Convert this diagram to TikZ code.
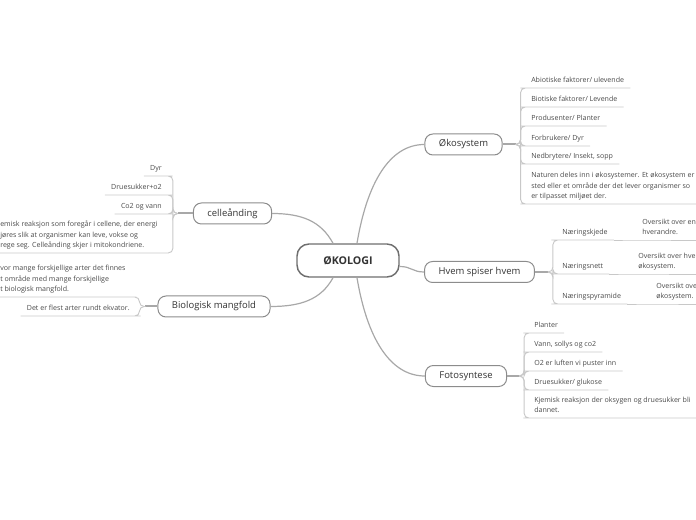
\documentclass[tikz,border=0pt]{standalone}
\usepackage{fontspec}
\setmainfont{Open Sans}
\usetikzlibrary{calc}
\definecolor{txtmain}{HTML}{333333}
\definecolor{txtleaf}{HTML}{4A4A4A}
\definecolor{curvec}{HTML}{A8A8A8}
\definecolor{twigc}{HTML}{C8C8C8}
\definecolor{tborder}{HTML}{8C8C8C}
\definecolor{mborder}{HTML}{6E6E6E}
\begin{document}
\begin{tikzpicture}[x=0.75pt,y=-0.75pt,
  rootbox/.style={draw=mborder,line width=1.1pt,rounded corners=9pt,fill=white,
    minimum width=76.5pt,minimum height=24.75pt,
    font=\fontsize{8}{9.6}\selectfont\bfseries,text=txtmain},
  topicbox/.style={draw=tborder,line width=0.75pt,rounded corners=6pt,fill=white,
    minimum height=15.75pt,inner xsep=10.5pt,
    font=\fontsize{7.1}{8.5}\selectfont,text=txtmain},
  leafR/.style={anchor=south west,inner xsep=4.5pt,inner ysep=1.3pt,align=left,
    font=\fontsize{5.3}{7.9}\selectfont,text=txtleaf},
  leafL/.style={leafR,anchor=south east},
  maincurve/.style={draw=curvec,line width=0.9pt},
  stem/.style={draw=curvec,line width=1.5pt},
  twig/.style={draw=twigc,line width=0.7pt,rounded corners=3.5pt}]
\useasboundingbox (0,0) rectangle (696,520);
\clip (0,0) rectangle (696,520);

% root and topics
\node[rootbox] (main) at (348,260.5) {ØKOLOGI};
\node[topicbox] (eko) at (463.5,144.5) {Økosystem};
\node[topicbox] (hvem) at (479.5,272) {Hvem spiser hvem};
\node[topicbox] (foto) at (466,376) {Fotosyntese};
\node[topicbox] (celle) at (232.5,213.5) {celleånding};
\node[topicbox] (bio) at (214,306.5) {Biologisk mangfold};

% main connectors
\draw[maincurve] ($(main.north)+(9,0)$) .. controls +(10,-60) and +(-35,0) .. (eko.west);
\draw[maincurve] ($(main.south)+(9,0)$) .. controls +(10,60) and +(-35,0) .. (foto.west);
\draw[maincurve] ($(main.east)+(0,6)$) .. controls +(12,0) and +(-12,0) .. (hvem.west);
\draw[maincurve] ($(main.north)+(-15,0)$) .. controls +(-12,-22) and +(30,0) .. (celle.east);
\draw[maincurve] ($(main.south)+(-15,0)$) .. controls +(-12,22) and +(30,0) .. (bio.east);

% branch points
\coordinate (eb) at ($(eko.east)+(13,0)$);
\coordinate (hb) at ($(hvem.east)+(13,0)$);
\coordinate (fb) at ($(foto.east)+(12,0)$);
\coordinate (cb) at ($(celle.west)+(-15,0)$);
\coordinate (bb) at ($(bio.west)+(-12,0)$);
\draw[stem] (eko.east) -- (eb);
\draw[stem] (hvem.east) -- (hb);
\draw[stem] (foto.east) -- (fb);
\draw[stem] (celle.west) -- (cb);
\draw[stem] (bio.west) -- (bb);

% Økosystem leaves
\node[leafR] (e1) at (525,88) {Abiotiske faktorer/ ulevende\strut};
\node[leafR] (e2) at (525,107) {Biotiske faktorer/ Levende\strut};
\node[leafR] (e3) at (525,126) {Produsenter/ Planter\strut};
\node[leafR] (e4) at (525,146) {Forbrukere/ Dyr\strut};
\node[leafR] (e5) at (525,164) {Nedbrytere/ Insekt, sopp\strut};
\node[leafR] (e6) at (525,204) {Naturen deles inn i økosystemer. Et økosystem er\\sted eller et område der det lever organismer so\\er tilpasset miljøet der.\strut};
\foreach \n in {e1,e2,e3,e4,e5,e6}
  \draw[twig] (eb) -- ++(5,0) |- (\n.south west) -- (\n.south east);

% Hvem spiser hvem leaves
\node[leafR] (h1) at (556,240) {Næringskjede\strut};
\node[leafR] (hg1) at (636,240) {Oversikt over en\\hverandre.\strut};
\node[leafR] (h2) at (556,274) {Næringsnett\strut};
\node[leafR] (hg2) at (632,274) {Oversikt over hve\\økosystem.\strut};
\node[leafR] (h3) at (556,304) {Næringspyramide\strut};
\node[leafR] (hg3) at (650,304) {Oversikt ove\\økosystem.\strut};
\foreach \n/\g in {h1/hg1,h2/hg2,h3/hg3}{
  \draw[twig] (hb) -- ++(5,0) |- (\n.south west) -- (\n.south east);
  \draw[twig] (\n.south east) -- (\g.south west) -- (\g.south east);
}

% Fotosyntese leaves
\node[leafR] (f1) at (528,333) {Planter\strut};
\node[leafR] (f2) at (528,352) {Vann, sollys og co2\strut};
\node[leafR] (f3) at (528,371) {O2 er luften vi puster inn\strut};
\node[leafR] (f4) at (528,390) {Druesukker/ glukose\strut};
\node[leafR] (f5) at (528,418) {Kjemisk reaksjon der oksygen og druesukker bli\\dannet.\strut};
\foreach \n in {f1,f2,f3,f4,f5}
  \draw[twig] (fb) -- ++(5,0) |- (\n.south west) -- (\n.south east);

% celleånding leaves
\node[leafL] (c1) at (168,176) {Dyr\strut};
\node[leafL] (c2) at (168,195) {Druesukker+o2\strut};
\node[leafL] (c3) at (168,214) {Co2 og vann\strut};
\node[leafR] (c4) at (-6,253) {emisk reaksjon som foregår i cellene, der energi\\jøres slik at organismer kan leve, vokse og\\rege seg. Celleånding skjer i mitokondriene.\strut};
\foreach \n in {c1,c2,c3}
  \draw[twig] (cb) -- ++(-5,0) |- (\n.south east) -- (\n.south west);
\draw[twig] (cb) -- ++(-5,0) |- (c4.south east) -- (c4.south west);

% Biologisk mangfold leaves
\node[leafR] (b1) at (-6,297) {vor mange forskjellige arter det finnes\\t område med mange forskjellige\\t biologisk mangfold.\strut};
\node[leafL] (b2) at (136,316) {Det er flest arter rundt ekvator.\strut};
\draw[twig] (bb) -- ++(-6,0) |- (b1.south east) -- (b1.south west);
\draw[twig] (bb) -- ++(-6,0) |- (b2.south east) -- (b2.south west);
\end{tikzpicture}
\end{document}
